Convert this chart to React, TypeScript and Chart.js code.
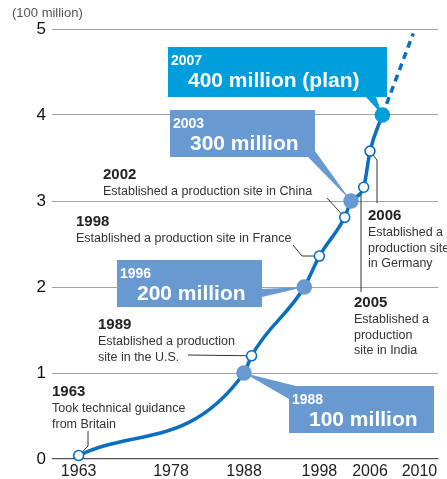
import React, { useEffect, useRef } from "react";
import { Chart, registerables } from "chart.js";

Chart.register(...registerables);

// ---------- data ----------
const years = [1963, 1988, 1989, 1996, 1998, 2002, 2003, 2005, 2006, 2007];
const output = [0.04, 1, 1.2, 2, 2.36, 2.81, 3, 3.16, 3.58, 4];
const planYears = [2007, 2009.5];
const planOutput = [4, 4.95];
const milestoneYears = [1988, 1996, 2003];
const planYear = 2007;
const tickYears = [1963, 1978, 1988, 1998, 2006, 2010];
const unitLabel = "(100 million)";

const eventYears = [1963, 1989, 1998, 2002, 2005, 2006];
const eventTexts = [
  ["Took technical guidance", "from Britain"],
  ["Established a production", "site in the U.S."],
  ["Established a production site in France"],
  ["Established a production site in China"],
  ["Established a", "production", "site in India"],
  ["Established a", "production site", "in Germany"],
];

const calloutYears = [2007, 2003, 1996, 1988];
const calloutTexts = ["400 million (plan)", "300 million", "200 million", "100 million"];

// ---------- layout / style ----------
const FONT = '"Liberation Sans", Arial, Helvetica, sans-serif';
const LINE_BLUE = "#0a6fc0";
const MILESTONE_BLUE = "#6899d1";
const PLAN_BLUE = "#009fdb";
const TEXT_DARK = "#222";

// spacing of the illustrated time axis (0..100 across the plot)
const tickSpacing = [6.9, 30.8, 49.7, 69.2, 82.3, 95.1];

function warp(year: number): number {
  const t = tickYears;
  const p = tickSpacing;
  let i = 0;
  while (i < t.length - 2 && year > t[i + 1]) i++;
  return p[i] + ((year - t[i]) * (p[i + 1] - p[i])) / (t[i + 1] - t[i]);
}

// text block layout: [x, baseline, leader path]
const eventLayout: { x: number; y: number; leader: number[][] }[] = [
  { x: 52, y: 396, leader: [[88, 431], [88, 446]] },
  { x: 98, y: 329, leader: [[188, 355]] },
  { x: 76, y: 226, leader: [[293, 245], [302, 256]] },
  { x: 103, y: 179, leader: [[327, 198]] },
  { x: 354, y: 307, leader: [[361, 292], [361, 193]] },
  { x: 368, y: 220, leader: [[377, 203], [377, 160]] },
];

const calloutLayout: { x: number; y: number; w: number; h: number; color: string; base: number[][] }[] = [
  { x: 168, y: 47, w: 219, h: 50, color: PLAN_BLUE, base: [[366, 97], [376, 97]] },
  { x: 170, y: 110, w: 145, h: 47, color: MILESTONE_BLUE, base: [[315, 151], [308, 157]] },
  { x: 117, y: 260, w: 145, h: 47, color: MILESTONE_BLUE, base: [[262, 289], [262, 297]] },
  { x: 289, y: 386, w: 145, h: 47, color: MILESTONE_BLUE, base: [[296, 386], [289, 399]] },
];

function valueOf(year: number): number {
  return output[years.indexOf(year)];
}

const annotPlugin = {
  id: "annot",
  beforeDatasetsDraw(chart: any) {
    const ctx = chart.ctx as CanvasRenderingContext2D;
    const xs = chart.scales.x;
    const ys = chart.scales.y;
    const pt = (yr: number, v: number) => [xs.getPixelForValue(warp(yr)), ys.getPixelForValue(v)];

    ctx.save();
    // callouts
    calloutYears.forEach((yr, i) => {
      const L = calloutLayout[i];
      const [px, py] = pt(yr, valueOf(yr));
      ctx.fillStyle = L.color;
      ctx.beginPath();
      ctx.moveTo(L.base[0][0], L.base[0][1]);
      ctx.lineTo(px, py);
      ctx.lineTo(L.base[1][0], L.base[1][1]);
      ctx.closePath();
      ctx.fill();
      ctx.fillRect(L.x, L.y, L.w, L.h);
      ctx.fillStyle = "#fff";
      ctx.textAlign = "left";
      ctx.textBaseline = "alphabetic";
      ctx.font = `bold 14px ${FONT}`;
      ctx.fillText(String(yr), L.x + 3, L.y + 18);
      ctx.font = `bold 21px ${FONT}`;
      ctx.fillText(calloutTexts[i], L.x + 20, L.y + 40);
    });

    // event annotations
    eventYears.forEach((yr, i) => {
      const L = eventLayout[i];
      const [px, py] = pt(yr, valueOf(yr));
      ctx.strokeStyle = "#333";
      ctx.lineWidth = 1;
      ctx.beginPath();
      ctx.moveTo(L.leader[0][0], L.leader[0][1]);
      for (let k = 1; k < L.leader.length; k++) ctx.lineTo(L.leader[k][0], L.leader[k][1]);
      ctx.lineTo(px, py);
      ctx.stroke();

      ctx.fillStyle = TEXT_DARK;
      ctx.textAlign = "left";
      ctx.textBaseline = "alphabetic";
      ctx.font = `bold 15px ${FONT}`;
      ctx.fillText(String(yr), L.x, L.y);
      ctx.font = `12.5px ${FONT}`;
      ctx.fillStyle = "#333";
      eventTexts[i].forEach((line, k) => {
        ctx.fillText(line, L.x, L.y + 16 + k * 15.7);
      });
    });
    ctx.restore();
  },
  afterDraw(chart: any) {
    const ctx = chart.ctx as CanvasRenderingContext2D;
    ctx.save();
    ctx.fillStyle = "#555";
    ctx.font = `13px ${FONT}`;
    ctx.textAlign = "left";
    ctx.textBaseline = "alphabetic";
    ctx.fillText(unitLabel, 12, 17);
    ctx.restore();
  },
};

export default function App() {
  const ref = useRef<HTMLCanvasElement | null>(null);

  useEffect(() => {
    document.body.style.margin = "0";
    const canvas = ref.current;
    if (!canvas) return;

    const pointRadius = years.map((y) => (y === planYear ? 7 : milestoneYears.includes(y) ? 7 : 5));
    const pointFill = years.map((y) => (y === planYear ? PLAN_BLUE : milestoneYears.includes(y) ? MILESTONE_BLUE : "#fff"));
    const pointBorder = years.map((y) => (y === planYear ? PLAN_BLUE : milestoneYears.includes(y) ? MILESTONE_BLUE : LINE_BLUE));

    const chart = new Chart(canvas, {
      type: "line",
      data: {
        datasets: [
          {
            label: "output",
            data: years.map((y, i) => ({ x: warp(y), y: output[i] })),
            borderColor: LINE_BLUE,
            borderWidth: 3.5,
            cubicInterpolationMode: "monotone",
            pointRadius,
            pointBackgroundColor: pointFill,
            pointBorderColor: pointBorder,
            pointBorderWidth: 1.6,
            clip: false,
            order: 1,
          } as any,
          {
            label: "plan",
            data: planYears.map((y, i) => ({ x: warp(y), y: planOutput[i] })),
            borderColor: LINE_BLUE,
            borderWidth: 3.5,
            borderDash: [7, 5],
            pointRadius: 0,
            clip: false,
            order: 2,
          } as any,
        ],
      },
      options: {
        responsive: false,
        animation: false,
        events: [],
        layout: { padding: { top: 29, right: 5, left: 0, bottom: 0 } },
        plugins: {
          legend: { display: false },
          tooltip: { enabled: false },
        },
        scales: {
          x: {
            type: "linear",
            min: 0,
            max: 100,
            grid: { display: false, drawTicks: false },
            border: { display: false },
            afterBuildTicks: (scale: any) => {
              scale.ticks = tickYears.map((y) => ({ value: warp(y) }));
            },
            afterFit: (scale: any) => {
              scale.height = 20;
            },
            ticks: {
              autoSkip: false,
              maxRotation: 0,
              padding: 3,
              color: "#222",
              font: { size: 16, family: FONT },
              callback: (_v: any, i: number) => String(tickYears[i]),
            },
          },
          y: {
            type: "linear",
            min: 0,
            max: 5,
            grid: {
              drawTicks: false,
              color: (c: any) => (c.tick && c.tick.value === 0 ? "#555" : "#a3a3a3"),
              lineWidth: (c: any) => (c.tick && c.tick.value === 0 ? 1.3 : 1),
            },
            border: { display: false },
            afterFit: (scale: any) => {
              scale.width = 52;
            },
            ticks: {
              stepSize: 1,
              padding: 6,
              color: "#111",
              font: { size: 17, family: FONT },
            },
          },
        },
      },
      plugins: [annotPlugin],
    });

    return () => chart.destroy();
  }, []);

  return <canvas ref={ref} width={447} height={479} style={{ display: "block" }} />;
}
